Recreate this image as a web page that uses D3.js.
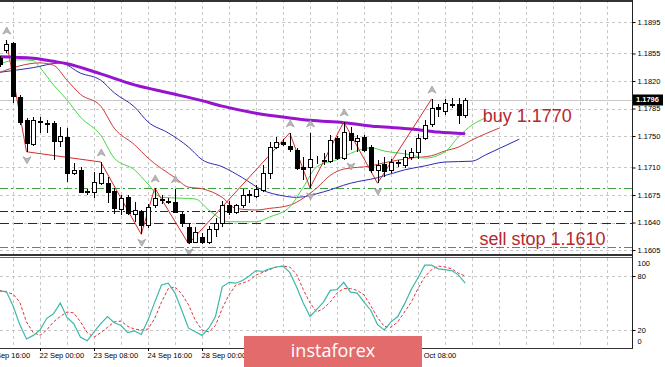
<!DOCTYPE html>
<html>
<head>
<meta charset="utf-8">
<script src="https://cdn.jsdelivr.net/npm/d3@7"></script>
<style>
html, body { margin: 0; padding: 0; background: #fff; }
svg { display: block; }
</style>
</head>
<body>
<div id="chart"></div>
<script>
// H4 bars, bar 0 = 22 Sep 00:00
var firstBar = -6
var opens = [1.1849, 1.1859, 1.1868, 1.1800, 1.1770, 1.1740, 1.1769, 1.1767, 1.1767, 1.1744,
  1.1749, 1.1703, 1.1707, 1.1680, 1.1679, 1.1690, 1.1690, 1.1680, 1.1657, 1.1672,
  1.1651, 1.1655, 1.1637, 1.1662, 1.1670, 1.1667, 1.1666, 1.1651, 1.1634, 1.1615,
  1.1622, 1.1615, 1.1632, 1.1639, 1.1662, 1.1653, 1.1662, 1.1675, 1.1674, 1.1681,
  1.1703, 1.1736, 1.1742, 1.1737, 1.1732, 1.1711, 1.1711, 1.1720, 1.1718, 1.1718,
  1.1748, 1.1722, 1.1754, 1.1744, 1.1749, 1.1736, 1.1707, 1.1714, 1.1707, 1.1716,
  1.1713, 1.1723, 1.1730, 1.1748, 1.1765, 1.1787, 1.1782, 1.1791, 1.1791, 1.1777]
var highs = [1.1852, 1.1872, 1.1870, 1.1802, 1.1773, 1.1774, 1.1774, 1.1770, 1.1769, 1.1761,
  1.1760, 1.1716, 1.1711, 1.1683, 1.1704, 1.1717, 1.1698, 1.1684, 1.1675, 1.1675,
  1.1666, 1.1656, 1.1664, 1.1684, 1.1675, 1.1671, 1.1683, 1.1653, 1.1639, 1.1634,
  1.1627, 1.1635, 1.1646, 1.1668, 1.1668, 1.1664, 1.1683, 1.1681, 1.1688, 1.1713,
  1.1742, 1.1749, 1.1746, 1.1754, 1.1735, 1.1723, 1.1754, 1.1725, 1.1728, 1.1751,
  1.1750, 1.1768, 1.1761, 1.1751, 1.1751, 1.1739, 1.1719, 1.1723, 1.1721, 1.1720,
  1.1732, 1.1735, 1.1753, 1.1770, 1.1797, 1.1791, 1.1797, 1.1798, 1.1798, 1.1798]
var lows = [1.1838, 1.1856, 1.1792, 1.1764, 1.1730, 1.1737, 1.1754, 1.1754, 1.1720, 1.1736,
  1.1691, 1.1700, 1.1678, 1.1675, 1.1671, 1.1688, 1.1665, 1.1651, 1.1650, 1.1650,
  1.1641, 1.1625, 1.1633, 1.1658, 1.1663, 1.1663, 1.1652, 1.1634, 1.1613, 1.1614,
  1.1613, 1.1613, 1.1622, 1.1634, 1.1650, 1.1651, 1.1658, 1.1665, 1.1671, 1.1679,
  1.1695, 1.1733, 1.1737, 1.1730, 1.1707, 1.1694, 1.1684, 1.1714, 1.1713, 1.1716,
  1.1719, 1.1719, 1.1732, 1.1730, 1.1730, 1.1703, 1.1690, 1.1698, 1.1703, 1.1711,
  1.1709, 1.1719, 1.1721, 1.1745, 1.1761, 1.1774, 1.1777, 1.1786, 1.1765, 1.1773]
var closes = [1.1841, 1.1867, 1.1801, 1.1768, 1.1741, 1.1770, 1.1768, 1.1765, 1.1744, 1.1750,
  1.1703, 1.1707, 1.1679, 1.1679, 1.1691, 1.1703, 1.1679, 1.1658, 1.1671, 1.1652,
  1.1656, 1.1637, 1.1660, 1.1671, 1.1669, 1.1666, 1.1653, 1.1639, 1.1615, 1.1628,
  1.1615, 1.1632, 1.1639, 1.1662, 1.1653, 1.1662, 1.1675, 1.1676, 1.1683, 1.1703,
  1.1736, 1.1742, 1.1740, 1.1733, 1.1709, 1.1708, 1.1721, 1.1719, 1.1720, 1.1745,
  1.1722, 1.1755, 1.1745, 1.1748, 1.1732, 1.1707, 1.1713, 1.1705, 1.1717, 1.1717,
  1.1723, 1.1730, 1.1748, 1.1764, 1.1786, 1.1785, 1.1792, 1.1790, 1.1777, 1.1796]

// moving average and alligator lines, [bar, price]
var maSlow = [[-6, 1.1851], [-1, 1.1849], [2, 1.1845], [4, 1.1842], [9, 1.1829], [14, 1.1815], [19, 1.1805],
  [24, 1.1795], [27, 1.1788], [32, 1.1779], [37, 1.1773], [40, 1.1770], [45, 1.1767], [50, 1.1762],
  [55, 1.1759], [59, 1.1755], [63, 1.1753]]
var jaw = [[-6, 1.1831], [-1, 1.1837], [3, 1.1843], [6, 1.1830], [9, 1.1821], [11, 1.1805], [14, 1.1787],
  [16, 1.1768], [19, 1.1754], [22, 1.1736], [24, 1.1720], [27, 1.1711], [30, 1.1697], [33, 1.1681],
  [36, 1.1674], [38, 1.1672], [42, 1.1679], [46, 1.1690], [50, 1.1697], [54, 1.1707], [57, 1.1712],
  [60, 1.1717], [64, 1.1718], [66, 1.1726], [71, 1.1746]]
var teeth = [[-6, 1.1831], [0, 1.1843], [2, 1.1840], [4, 1.1821], [6, 1.1803], [9, 1.1788], [11, 1.1760],
  [14, 1.1739], [16, 1.1722], [20, 1.1697], [22, 1.1685], [24, 1.1683], [27, 1.1672], [29, 1.1658],
  [32, 1.1656], [34, 1.1658], [37, 1.1662], [39, 1.1671], [41, 1.1684], [43, 1.1700], [45, 1.1708],
  [49, 1.1712], [51, 1.1716], [55, 1.1722], [58, 1.1725], [60, 1.1731], [62, 1.1736], [64, 1.1745],
  [68, 1.1760]]
var lips = [[-6, 1.1842], [-3, 1.1847], [-1, 1.1846], [0, 1.1837], [2, 1.1815], [4, 1.1796], [6, 1.1774],
  [9, 1.1751], [11, 1.1722], [14, 1.1707], [16, 1.1689], [18, 1.1672], [21, 1.1671], [23, 1.1670],
  [25, 1.1656], [28, 1.1641], [32, 1.1641], [34, 1.1647], [37, 1.1660], [39, 1.1685], [41, 1.1711],
  [44, 1.1720], [46, 1.1728], [49, 1.1735], [51, 1.1731], [55, 1.1726], [57, 1.1722], [60, 1.1730],
  [62, 1.1749], [64, 1.1764], [66, 1.1773]]

var zigzag = [[-5, 1.1872], [-2, 1.1730], [9, 1.1717], [15, 1.1625], [17, 1.1684], [22, 1.1613],
  [37, 1.1754], [40, 1.1684], [45, 1.1768], [50, 1.1690], [58, 1.1797]]
var fractalsUp = [[-5, 1.1872], [9, 1.1717], [17, 1.1684], [20, 1.1683], [37, 1.1754], [40, 1.1754],
  [45, 1.1768], [58, 1.1797]]
var fractalsDown = [[-2, 1.1730], [15, 1.1625], [22, 1.1613], [40, 1.1684], [46, 1.1722], [50, 1.1690]]

var levelsGreen = [1.1684, 1.1609]
var levelDashDot = 1.1655
var levelDashed = 1.1640
var lastPrice = 1.1796
var notes = [['buy 1.1770', 1.1770], ['sell stop 1.1610', 1.1610]]

var stochMain = [63, 63, 47, 26, 10, 14, 20, 33, 38, 50, 34, 27, 12, 8, 18, 27, 35, 28, 25, 17,
  19, 15, 31, 51, 70, 72, 61, 42, 22, 18, 14, 22, 35, 68, 73, 72, 75, 80, 86, 85,
  88, 90, 91, 84, 68, 50, 35, 43, 51, 64, 65, 73, 62, 61, 51, 42, 26, 20, 29, 35,
  49, 65, 78, 92, 92, 88, 87, 86, 81, 72]
var stochSignal = [64, 62, 60, 51, 29, 17, 14, 20, 29, 35, 40, 39, 29, 17, 12, 17, 23, 29, 30, 24,
  21, 20, 21, 33, 51, 66, 68, 60, 48, 31, 20, 18, 25, 44, 59, 70, 72, 75, 81, 84,
  87, 90, 91, 90, 82, 65, 50, 40, 44, 51, 61, 66, 66, 64, 59, 47, 34, 24, 23, 29,
  40, 51, 66, 79, 87, 91, 90, 88, 83, 80]

var priceTicks = [1.1895, 1.1855, 1.1820, 1.1785, 1.1750, 1.1710, 1.1675, 1.1640, 1.1605]
var stochTicks = [100, 80, 20, 0]
var timeBars = [-8, 0, 8, 16, 24, 32, 40, 48, 56]
var timeLabels = ['21 Sep 16:00', '22 Sep 00:00', '23 Sep 08:00', '24 Sep 16:00', '28 Sep 00:00',
  '29 Sep 08:00', '30 Sep 16:00', '2 Oct 00:00', '5 Oct 08:00']

var W = 665
var H = 367
var right = 632
var mainBottom = 254
var subTop = 258
var subBottom = 348
var axisFont = '"Liberation Sans", Arial, sans-serif'
var box = { x: 244, y: 336, w: 178, h: 31 }

var svg = d3.select('#chart').append('svg').attr('width', W).attr('height', H)
svg.append('rect').attr('width', W).attr('height', H).attr('fill', '#fff')

var x = d3.scaleLinear().domain([0, 1]).range([40, 46.75])
var y = d3.scaleLinear().domain([1.16, 1.1923]).range([mainBottom, 0])
var ys = d3.scaleLinear().domain([0, 100]).range([subBottom, subTop])

var defs = svg.append('defs')
defs.append('clipPath').attr('id', 'clipMain').append('rect').attr('x', 0).attr('y', 0).attr('width', right).attr('height', mainBottom)
defs.append('clipPath').attr('id', 'clipSub').append('rect').attr('x', 0).attr('y', subTop).attr('width', right).attr('height', subBottom - subTop)

var main = svg.append('g').attr('clip-path', 'url(#clipMain)')
var sub = svg.append('g').attr('clip-path', 'url(#clipSub)')

// grid
var gridBars = d3.range(-4, 90, 4).filter(function (b) { return x(b) < right })
var gridColor = '#c6c6c6'
;[main, sub].forEach(function (g, k) {
  g.selectAll('line.vgrid').data(gridBars).enter().append('line')
    .attr('x1', function (d) { return Math.round(x(d)) + 0.5 })
    .attr('x2', function (d) { return Math.round(x(d)) + 0.5 })
    .attr('y1', k === 0 ? 0 : subTop).attr('y2', k === 0 ? mainBottom : subBottom)
    .attr('stroke', gridColor).attr('stroke-dasharray', '3,3')
})
main.selectAll('line.hgrid').data(priceTicks).enter().append('line')
  .attr('x1', 0).attr('x2', right)
  .attr('y1', function (d) { return Math.round(y(d)) + 0.5 })
  .attr('y2', function (d) { return Math.round(y(d)) + 0.5 })
  .attr('stroke', gridColor).attr('stroke-dasharray', '3,3')
sub.selectAll('line.hgrid').data([80, 20]).enter().append('line')
  .attr('x1', 0).attr('x2', right)
  .attr('y1', function (d) { return Math.round(ys(d)) + 0.5 })
  .attr('y2', function (d) { return Math.round(ys(d)) + 0.5 })
  .attr('stroke', gridColor).attr('stroke-dasharray', '3,3')

// horizontal levels
function hline (p, color, dash) {
  main.append('line').attr('x1', 0).attr('x2', right)
    .attr('y1', Math.round(y(p)) + 0.5).attr('y2', Math.round(y(p)) + 0.5)
    .attr('stroke', color).attr('stroke-dasharray', dash)
}
levelsGreen.forEach(function (p) { hline(p, '#3f9f3f', '8,3,2,3') })
hline(levelDashDot, '#2a2a2a', '8,3,2,3')
hline(levelDashed, '#2a2a2a', '9,5')
hline(lastPrice, '#c8c8c8', null)

// lines
var lineP = d3.line().x(function (d) { return x(d[0]) }).y(function (d) { return y(d[1]) }).curve(d3.curveMonotoneX)
main.append('path').datum(jaw).attr('d', lineP).attr('fill', 'none').attr('stroke', '#2b2bb0').attr('stroke-width', 1)
main.append('path').datum(teeth).attr('d', lineP).attr('fill', 'none').attr('stroke', '#cc3a3a').attr('stroke-width', 1)
main.append('path').datum(lips).attr('d', lineP).attr('fill', 'none').attr('stroke', '#44d844').attr('stroke-width', 1)
main.append('path').datum(maSlow).attr('d', lineP).attr('fill', 'none').attr('stroke', '#9614d0').attr('stroke-width', 3)

var lineZ = d3.line().x(function (d) { return x(d[0]) }).y(function (d) { return y(d[1]) })
main.append('path').datum(zigzag).attr('d', lineZ).attr('fill', 'none').attr('stroke', '#d02c2c').attr('stroke-width', 1)

// candles
var candles = opens.map(function (o, i) {
  return { bar: firstBar + i, o: o, h: highs[i], l: lows[i], c: closes[i] }
})
var cg = main.append('g').attr('shape-rendering', 'crispEdges')
candles.forEach(function (d) {
  var cx = Math.round(x(d.bar))
  cg.append('line').attr('x1', cx + 0.5).attr('x2', cx + 0.5)
    .attr('y1', y(d.h)).attr('y2', y(d.l)).attr('stroke', '#000')
  var top = Math.round(y(Math.max(d.o, d.c)))
  var bot = Math.round(y(Math.min(d.o, d.c)))
  cg.append('rect').attr('x', cx - 1.5).attr('y', top + 0.5)
    .attr('width', 4).attr('height', Math.max(0, bot - top))
    .attr('fill', d.c >= d.o ? '#fff' : '#000').attr('stroke', '#000')
})

// fractal arrows
var arrowUp = 'M0,-4L4,3L0,1L-4,3Z'
var arrowDown = 'M0,4L4,-3L0,-1L-4,-3Z'
main.selectAll('path.fu').data(fractalsUp).enter().append('path')
  .attr('d', arrowUp)
  .attr('transform', function (d) { return 'translate(' + (x(d[0]) + 0.5) + ',' + (y(d[1]) - 9) + ')' })
  .attr('fill', '#b8b8b8').attr('stroke', '#8e8e8e').attr('stroke-width', 0.6)
main.selectAll('path.fd').data(fractalsDown).enter().append('path')
  .attr('d', arrowDown)
  .attr('transform', function (d) { return 'translate(' + (x(d[0]) + 0.5) + ',' + (y(d[1]) + 8) + ')' })
  .attr('fill', '#b8b8b8').attr('stroke', '#8e8e8e').attr('stroke-width', 0.6)

// notes
main.selectAll('text.note').data(notes).enter().append('text')
  .attr('x', function (d, i) { return i === 0 ? x(65.6) : x(65.1) })
  .attr('y', function (d, i) { return i === 0 ? y(d[1]) + 2 : y(d[1]) - 1 })
  .attr('font-family', axisFont).attr('font-size', 18).attr('fill', '#b3292f')
  .text(function (d) { return d[0] })

// stochastic
var lineS = d3.line().x(function (d, i) { return x(firstBar + i) }).y(function (d) { return ys(d) })
sub.append('path').datum(stochSignal).attr('d', lineS).attr('fill', 'none')
  .attr('stroke', '#e0343a').attr('stroke-width', 1).attr('stroke-dasharray', '3,2')
sub.append('path').datum(stochMain).attr('d', lineS).attr('fill', 'none')
  .attr('stroke', '#3cb8a8').attr('stroke-width', 1.2)

// frames
var fg = svg.append('g').attr('shape-rendering', 'crispEdges')
fg.append('rect').attr('x', 0).attr('y', 0).attr('width', right + 1).attr('height', 1.5).attr('fill', '#333')
fg.append('rect').attr('x', 0).attr('y', mainBottom).attr('width', right + 1).attr('height', 2).attr('fill', '#333')
fg.append('rect').attr('x', 0).attr('y', subTop - 1).attr('width', right + 1).attr('height', 1).attr('fill', '#666')
fg.append('rect').attr('x', 0).attr('y', subBottom - 0.5).attr('width', right + 1).attr('height', 1.5).attr('fill', '#333')
fg.append('rect').attr('x', right).attr('y', 0).attr('width', 1).attr('height', subBottom).attr('fill', '#222')

// price axis
var yAxis = d3.axisRight(y).tickValues(priceTicks).tickSize(3).tickPadding(2).tickFormat(d3.format('.4f'))
var ya = svg.append('g').attr('transform', 'translate(' + (right + 0.5) + ',0)').call(yAxis)
ya.select('.domain').remove()
ya.selectAll('text').attr('font-family', axisFont).attr('font-size', 7.5).attr('fill', '#000')

svg.append('rect').attr('x', right + 1).attr('y', Math.round(y(lastPrice)) - 5.5).attr('width', 30).attr('height', 11).attr('fill', '#000')
svg.append('text').attr('x', right + 4).attr('y', y(lastPrice)).attr('dy', '0.35em')
  .attr('font-family', axisFont).attr('font-size', 7.5).attr('font-weight', 'bold').attr('fill', '#fff')
  .text(d3.format('.4f')(lastPrice))

// stochastic axis
var sa = svg.append('g').attr('transform', 'translate(' + (right + 0.5) + ',0)')
sa.selectAll('text').data(stochTicks).enter().append('text')
  .attr('x', 5)
  .attr('y', function (d) { return d === 100 ? ys(d) + 5.5 : d === 0 ? ys(d) - 6.5 : ys(d) })
  .attr('dy', '0.35em')
  .attr('font-family', axisFont).attr('font-size', 7.5).attr('fill', '#000')
  .text(function (d) { return d })
sa.selectAll('line').data([80, 20]).enter().append('line')
  .attr('x1', 0).attr('x2', 3)
  .attr('y1', function (d) { return Math.round(ys(d)) + 0.5 })
  .attr('y2', function (d) { return Math.round(ys(d)) + 0.5 })
  .attr('stroke', '#000')

// time axis
var xAxis = d3.axisBottom(x).tickValues(timeBars).tickSize(3).tickPadding(2)
  .tickFormat(function (d, i) { return timeLabels[i] })
var xa = svg.append('g').attr('transform', 'translate(0,' + subBottom + ')').call(xAxis)
xa.select('.domain').remove()
xa.selectAll('text').attr('font-family', axisFont).attr('font-size', 7.5).attr('fill', '#000')
  .attr('text-anchor', 'start').attr('x', -1)
// labels that sit fully under the watermark are not visible, drop them
xa.selectAll('.tick').each(function (d) {
  var t = d3.select(this).select('text')
  var x0 = x(d) - 1
  var x1 = x0 + t.node().getComputedTextLength()
  if (x0 >= box.x && x1 <= box.x + box.w) t.remove()
})

// watermark
svg.append('rect').attr('x', box.x).attr('y', box.y).attr('width', box.w).attr('height', box.h).attr('fill', '#e46b6b')
svg.append('text').attr('x', box.x + box.w / 2).attr('y', 357).attr('text-anchor', 'middle')
  .attr('font-family', '"Open Sans", sans-serif').attr('font-size', 18).attr('fill', '#fff')
  .text('instaforex')
</script>
</body>
</html>
